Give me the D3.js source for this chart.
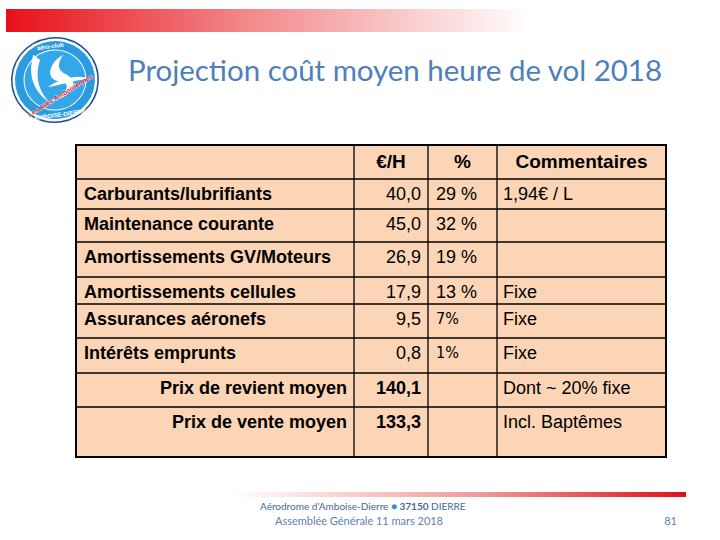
<!DOCTYPE html>
<html>
<head>
<meta charset="utf-8">
<script src="https://cdn.jsdelivr.net/npm/d3@7/dist/d3.min.js"></script>
<style>
  body { margin: 0; background: #fff; }
  svg { display: block; }
</style>
</head>
<body>
<svg id="slide"></svg>
<script>
// données du tableau
const entetes = ["", "€/H", "%", "Commentaires"];
const postes = ["Carburants/lubrifiants", "Maintenance courante", "Amortissements GV/Moteurs",
                "Amortissements cellules", "Assurances aéronefs", "Intérêts emprunts"];
const euroParHeure = [40.0, 45.0, 26.9, 17.9, 9.5, 0.8];
const pourcents = ["29 %", "32 %", "19 %", "13 %", "7%", "1%"];
const commentaires = ["1,94€ / L", "", "", "Fixe", "Fixe", "Fixe"];
const totaux = ["Prix de revient moyen", "Prix de vente moyen"];
const totauxValeurs = [140.1, 133.3];
const totauxCommentaires = ["Dont ~ 20% fixe", "Incl. Baptêmes"];

let width = 720, height = 540;
let svg = d3.select("#slide").attr("width", width).attr("height", height);
let defs = svg.append("defs");

let fr = d3.formatLocale({decimal: ",", thousands: " ", grouping: [3], currency: ["", "€"]}),
    fmt = fr.format(".1f");

// bandeau du haut
let gTop = defs.append("linearGradient").attr("id", "gTop");
gTop.append("stop").attr("offset", "0%").attr("stop-color", "#e8101a");
gTop.append("stop").attr("offset", "35%").attr("stop-color", "#f28a8c");
gTop.append("stop").attr("offset", "75%").attr("stop-color", "#ffffff");
svg.append("rect").attr("x", 6).attr("y", 9).attr("width", 700).attr("height", 23).attr("fill", "url(#gTop)");

// bandeau du bas
let gBot = defs.append("linearGradient").attr("id", "gBot");
gBot.append("stop").attr("offset", "0%").attr("stop-color", "#ffffff");
gBot.append("stop").attr("offset", "55%").attr("stop-color", "#ef9a9a");
gBot.append("stop").attr("offset", "100%").attr("stop-color", "#e01018");
svg.append("rect").attr("x", 230).attr("y", 492).attr("width", 456).attr("height", 5).attr("fill", "url(#gBot)");

// logo
let logo = svg.append("g").attr("transform", "translate(55,80) rotate(-8)");
logo.append("ellipse").attr("rx", 44).attr("ry", 43).attr("fill", "#1a4f9a");
logo.append("ellipse").attr("rx", 42.5).attr("ry", 41.5).attr("fill", "#ffffff");
logo.append("ellipse").attr("rx", 40).attr("ry", 39).attr("fill", "#2a9be0");
logo.append("ellipse").attr("rx", 31).attr("ry", 30).attr("fill", "#34a6ea").attr("stroke", "#ffffff").attr("stroke-width", 1);
logo.append("path").attr("d", "M-18,-28 C-26,-10 -24,8 -8,22 C-20,6 -18,-10 -12,-22 Z").attr("fill", "#ffffff");
logo.append("path").attr("d", "M12,-24 C-4,-18 -10,-2 4,2 C18,6 10,16 -14,22 C14,20 26,8 12,-4 C2,-10 6,-18 12,-24 Z").attr("fill", "#ffffff");
logo.append("path").attr("d", "M-8,6 C8,-2 26,-2 34,4 C20,2 6,6 -8,6 Z").attr("fill", "#ffffff");
logo.append("text").attr("y", -32).attr("text-anchor", "middle").attr("fill", "#ffffff")
  .style("font", "bold 6px 'Liberation Sans'").text("aéro-club");
logo.append("text").attr("y", 37).attr("text-anchor", "middle").attr("fill", "#ffffff")
  .style("font", "bold 6px 'Liberation Sans'").text("AMBOISE-DIERRE");
logo.append("text").attr("transform", "translate(4,18) rotate(-24)").attr("text-anchor", "middle")
  .attr("fill", "#d6202a").attr("stroke", "#ffffff").attr("stroke-width", 0.5).attr("paint-order", "stroke")
  .style("font", "bold italic 6.5px 'Liberation Sans'").text("Les Ailes Amboisiennes");

// titre
svg.append("text").attr("x", 128).attr("y", 81).attr("textLength", 534).attr("lengthAdjust", "spacingAndGlyphs")
  .attr("fill", "#4f7fba").style("font", "28px Lato").text("Projection coût moyen heure de vol 2018");

// tableau
let colEdges = [76, 354, 428, 497, 666],
    rowHeights = [34, 30, 33, 35, 27, 34, 35, 34, 50],
    rowEdges = [145].concat(Array.from(d3.cumsum(rowHeights), d => 145 + d)),
    tTop = rowEdges[0], tBottom = rowEdges[rowEdges.length - 1];

let table = svg.append("g");
table.append("rect").attr("x", colEdges[0]).attr("y", tTop)
  .attr("width", colEdges[4] - colEdges[0]).attr("height", tBottom - tTop).attr("fill", "#fbd5b5");

table.selectAll(".h").data(rowEdges.slice(1, -1)).join("line")
  .attr("class", "h")
  .attr("x1", colEdges[0]).attr("x2", colEdges[4]).attr("y1", d => d).attr("y2", d => d)
  .attr("stroke", "#000").attr("stroke-width", 1.3);
table.selectAll(".v").data(colEdges.slice(1, -1)).join("line")
  .attr("class", "v")
  .attr("x1", d => d).attr("x2", d => d).attr("y1", tTop).attr("y2", tBottom)
  .attr("stroke", "#000").attr("stroke-width", 1.3);
table.append("rect").attr("x", colEdges[0]).attr("y", tTop)
  .attr("width", colEdges[4] - colEdges[0]).attr("height", tBottom - tTop)
  .attr("fill", "none").attr("stroke", "#000").attr("stroke-width", 2);

// entêtes
table.selectAll(".th").data(entetes).join("text")
  .attr("class", "th")
  .attr("x", (d, i) => (colEdges[i] + colEdges[i + 1]) / 2)
  .attr("y", tTop + 23)
  .attr("text-anchor", "middle")
  .style("font", "bold 19px 'Liberation Sans'")
  .text(d => d);

let body = "18px 'Liberation Sans'", bodyBold = "bold 18px 'Liberation Sans'";

// lignes de postes
let rows = table.selectAll(".row").data(postes).join("g")
  .attr("class", "row")
  .attr("transform", (d, i) => `translate(0,${rowEdges[i + 1] + 21})`);
rows.append("text").attr("x", colEdges[0] + 8).style("font", bodyBold).text(d => d);
rows.append("text").attr("x", colEdges[2] - 7).attr("text-anchor", "end").style("font", body)
  .text((d, i) => fmt(euroParHeure[i]));
rows.append("text").attr("x", colEdges[2] + 8)
  .attr("dy", (d, i) => pourcents[i].includes(" ") ? 0 : -1)
  .style("font", (d, i) => pourcents[i].includes(" ") ? body : "16px 'DejaVu Sans'")
  .style("font-stretch", "condensed")
  .text((d, i) => pourcents[i]);
rows.append("text").attr("x", colEdges[3] + 6).style("font", body).text((d, i) => commentaires[i]);

// totaux
let tot = table.selectAll(".tot").data(totaux).join("g")
  .attr("class", "tot")
  .attr("transform", (d, i) => `translate(0,${rowEdges[postes.length + 1 + i] + 21})`);
tot.append("text").attr("x", colEdges[1] - 7).attr("text-anchor", "end").style("font", bodyBold).text(d => d);
tot.append("text").attr("x", colEdges[2] - 7).attr("text-anchor", "end").style("font", bodyBold)
  .text((d, i) => fmt(totauxValeurs[i]));
tot.append("text").attr("x", colEdges[3] + 6).style("font", body).text((d, i) => totauxCommentaires[i]);

// pied de page
let foot = svg.append("text").attr("x", 260).attr("y", 510).style("font", "10px Lato").attr("fill", "#46679e");
foot.append("tspan").text("Aérodrome d’Amboise-Dierre ");
foot.append("tspan").attr("fill", "#3f86d6").text("● ");
foot.append("tspan").style("font-weight", "bold").text("37150");
foot.append("tspan").text(" DIERRE");
svg.append("text").attr("x", 275).attr("y", 525).style("font", "11px Lato").attr("fill", "#5b7fb3")
  .attr("textLength", 168).text("Assemblée Générale 11 mars 2018");
svg.append("text").attr("x", 677).attr("y", 525).attr("text-anchor", "end").style("font", "11px Lato")
  .attr("fill", "#5b7fb3").text("81");
</script>
</body>
</html>
